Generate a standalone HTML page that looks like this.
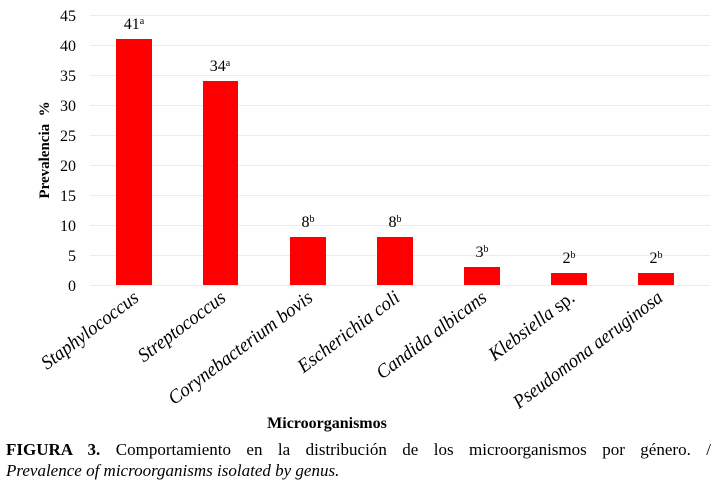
<!DOCTYPE html>
<html><head><style>
body{margin:0;background:#fff;width:721px;height:495px;overflow:hidden;font-family:"Liberation Serif",serif;}
.cap{position:absolute;left:6px;width:705px;top:439px;font-size:17px;line-height:22px;text-align:justify;text-align-last:justify;}
.cap2{position:absolute;left:6px;top:461px;font-size:17px;font-style:italic;}
</style></head><body>
<svg width="721" height="495" style="position:absolute;left:0;top:0" font-family="Liberation Serif, serif">
<g stroke="#ececec" stroke-width="1">
<line x1="90" x2="710" y1="15.5" y2="15.5"/><line x1="90" x2="710" y1="45.5" y2="45.5"/>
<line x1="90" x2="710" y1="75.5" y2="75.5"/><line x1="90" x2="710" y1="105.5" y2="105.5"/>
<line x1="90" x2="710" y1="135.5" y2="135.5"/><line x1="90" x2="710" y1="165.5" y2="165.5"/>
<line x1="90" x2="710" y1="195.5" y2="195.5"/><line x1="90" x2="710" y1="225.5" y2="225.5"/>
<line x1="90" x2="710" y1="255.5" y2="255.5"/><line x1="90" x2="710" y1="285.5" y2="285.5"/>
</g>
<g font-size="16" text-anchor="end">
<text x="76" y="21">45</text><text x="76" y="51">40</text><text x="76" y="81">35</text>
<text x="76" y="111">30</text><text x="76" y="141">25</text><text x="76" y="171">20</text>
<text x="76" y="201">15</text><text x="76" y="231">10</text><text x="76" y="261">5</text><text x="76" y="291">0</text>
</g>
<g fill="#ff0000">
<rect x="116" y="39" width="36" height="246"/>
<rect x="203" y="81" width="35" height="204"/>
<rect x="290" y="237" width="36" height="48"/>
<rect x="377" y="237" width="36" height="48"/>
<rect x="464" y="267" width="36" height="18"/>
<rect x="551" y="273" width="36" height="12"/>
<rect x="638" y="273" width="36" height="12"/>
</g>
<g font-size="16" text-anchor="middle">
<text x="134" y="29">41<tspan font-size="10" dy="-5">a</tspan></text>
<text x="220" y="71">34<tspan font-size="10" dy="-5">a</tspan></text>
<text x="308" y="227">8<tspan font-size="10" dy="-5">b</tspan></text>
<text x="395" y="227">8<tspan font-size="10" dy="-5">b</tspan></text>
<text x="482" y="257">3<tspan font-size="10" dy="-5">b</tspan></text>
<text x="569" y="263">2<tspan font-size="10" dy="-5">b</tspan></text>
<text x="656" y="263">2<tspan font-size="10" dy="-5">b</tspan></text>
</g>
<g font-size="19.5" font-style="italic" text-anchor="end">
<text transform="translate(140,300) rotate(-37) scale(0.96,1)">Staphylococcus</text>
<text transform="translate(227,300) rotate(-37) scale(0.96,1)">Streptococcus</text>
<text transform="translate(314,300) rotate(-37) scale(0.96,1)">Corynebacterium bovis</text>
<text transform="translate(401,300) rotate(-37) scale(0.96,1)">Escherichia coli</text>
<text transform="translate(488,300) rotate(-37) scale(0.96,1)">Candida albicans</text>
<text transform="translate(576,300) rotate(-37) scale(0.96,1)">Klebsiella <tspan font-style="normal">sp.</tspan></text>
<text transform="translate(664,300) rotate(-37) scale(0.94,1)">Pseudomona aeruginosa</text>
</g>
<text transform="translate(49,150) rotate(-90)" font-size="15" font-weight="bold" text-anchor="middle">Prevalencia&#160;&#160;%</text>
<text x="327" y="428" font-size="16" font-weight="bold" text-anchor="middle">Microorganismos</text>
</svg>
<div class="cap"><b>FIGURA 3.</b> Comportamiento en la distribución de los microorganismos por género. /</div>
<div class="cap2">Prevalence of microorganisms isolated by genus.</div>
</body></html>
